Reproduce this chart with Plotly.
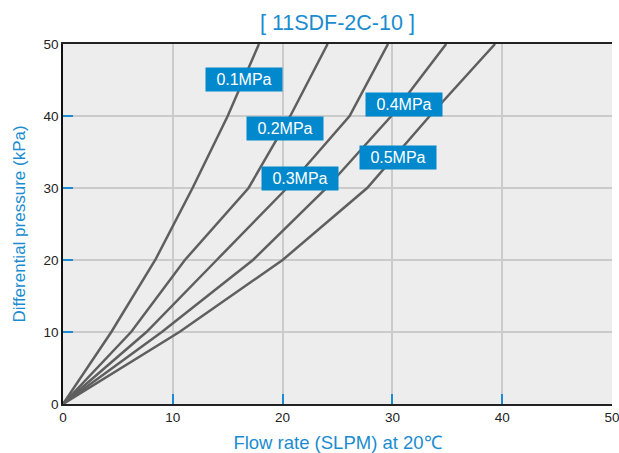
import plotly.graph_objects as go

# Data
series_names = ["0.1MPa", "0.2MPa", "0.3MPa", "0.4MPa", "0.5MPa"]
flow_01 = [0, 4.4, 8.4, 11.8, 15.0, 17.85]
flow_02 = [0, 6.2, 11.1, 16.9, 20.7, 24.1]
flow_03 = [0, 7.6, 14.0, 20.4, 26.1, 29.6]
flow_04 = [0, 9.0, 17.3, 24.0, 29.9, 34.9]
flow_05 = [0, 10.6, 20.0, 27.7, 33.4, 39.35]
pressure = [0, 10, 20, 30, 40, 50]

label_x = [16.5, 20.2, 21.6, 31.1, 30.5]
label_y = [45.1, 38.3, 31.3, 41.6, 34.3]

x_ticks = [0, 10, 20, 30, 40, 50]
y_ticks = [0, 10, 20, 30, 40, 50]

BLUE = "#1a8ccf"
LINE = "#5f5f5f"
FONT = "Liberation Sans, Arial, sans-serif"

fig = go.Figure()
for xs in [flow_01, flow_02, flow_03, flow_04, flow_05]:
    fig.add_trace(go.Scatter(x=xs, y=pressure, mode="lines",
                             line=dict(color=LINE, width=2.5),
                             showlegend=False, hoverinfo="skip"))

for name, lx, ly in zip(series_names, label_x, label_y):
    fig.add_annotation(x=lx, y=ly, text=name, showarrow=False,
                       font=dict(family=FONT, size=16, color="white"),
                       bgcolor="#0288cc", width=72, height=19, borderpad=2)

fig.update_layout(
    width=619, height=453,
    margin=dict(l=63, r=7, t=44, b=49, autoexpand=False),
    paper_bgcolor="white", plot_bgcolor="#ededed",
    font=dict(family=FONT, size=13, color="#222"),
    title=dict(text="[ 11SDF-2C-10 ]", x=0.5451, xanchor="center",
               y=0.951, yanchor="middle", automargin=False,
               font=dict(family=FONT, size=21.5, color=BLUE)),
    showlegend=False,
)
fig.update_xaxes(range=[0, 50], tickvals=x_ticks, ticktext=[str(v) for v in x_ticks],
                 showgrid=True, gridcolor="#cbcbcb", gridwidth=1.5,
                 zeroline=False, showline=True, linecolor="#222", linewidth=1.5,
                 mirror=True, ticks="inside", ticklen=10, tickwidth=2,
                 tickcolor=BLUE, tickfont=dict(size=13.5, color="#222"),
                 ticklabeloverflow="allow", automargin=False,
                 title=dict(text="Flow rate (SLPM) at 20℃", standoff=13,
                            font=dict(family=FONT, size=18.5, color=BLUE)))
fig.update_yaxes(range=[0, 50], tickvals=y_ticks, ticktext=[str(v) for v in y_ticks],
                 showgrid=True, gridcolor="#cbcbcb", gridwidth=1.5,
                 zeroline=False, showline=True, linecolor="#111", linewidth=1.5,
                 mirror=False, ticks="inside", ticklen=10, tickwidth=2,
                 tickcolor=BLUE, tickfont=dict(size=13.5, color="#222"),
                 ticklabeloverflow="allow", automargin=False,
                 title=dict(text="Differential pressure (kPa)", standoff=14,
                            font=dict(family=FONT, size=17, color=BLUE)))

fig.write_html("out.html", config={"displayModeBar": False},
               post_script="document.body.style.margin='0';document.body.style.overflow='hidden';")
